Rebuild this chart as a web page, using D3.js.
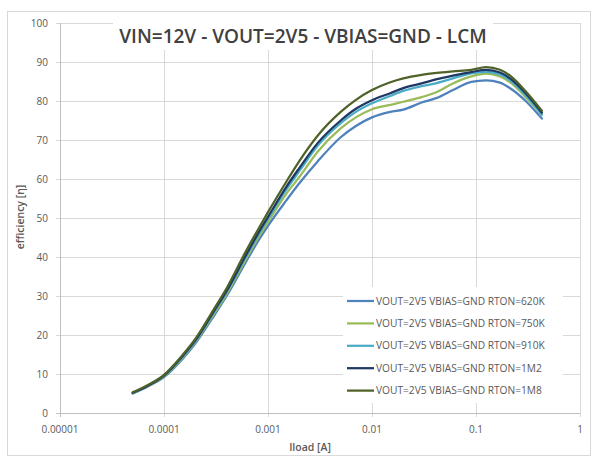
<!DOCTYPE html>
<html>
<head>
<meta charset="utf-8">
<script src="https://cdn.jsdelivr.net/npm/d3@7"></script>
<style>
  html, body { margin: 0; padding: 0; background: #fff; }
  svg { display: block; font-family: "Open Sans", "Liberation Sans", sans-serif; }
</style>
</head>
<body>
<svg id="chart" width="595" height="457"></svg>
<script>
// Load current (A) sample points
const iload = [5e-5, 7e-5, 1e-4, 1.5e-4, 2e-4, 3e-4, 4e-4, 6e-4, 8e-4, 1e-3, 1.5e-3, 2e-3, 3e-3, 5e-3, 7e-3,
               0.01, 0.015, 0.02, 0.03, 0.042, 0.06, 0.09, 0.125, 0.17, 0.22, 0.3, 0.43];

// Efficiency (%) per RTON setting
const eff620K = [5.0, 6.8, 9.2, 13.8, 17.8, 24.8, 30.0, 38.3, 44.0, 48.0, 54.5, 58.9, 64.5, 70.7, 73.6,
                 75.8, 77.2, 77.8, 79.6, 80.8, 82.8, 84.9, 85.3, 84.7, 83.0, 80.0, 75.5];
const eff750K = [5.1, 6.9, 9.4, 14.1, 18.2, 25.3, 30.5, 39.0, 44.8, 49.0, 56.2, 60.5, 67.0, 73.0, 75.8,
                 77.9, 79.0, 79.8, 81.0, 82.3, 84.5, 86.3, 87.0, 86.3, 84.5, 81.0, 76.5];
const eff910K = [5.1, 7.0, 9.5, 14.3, 18.4, 25.7, 31.0, 39.6, 45.5, 49.8, 57.3, 62.0, 68.5, 74.3, 77.2,
                 79.4, 81.3, 82.6, 83.8, 84.6, 85.8, 87.1, 87.5, 86.8, 85.0, 81.5, 76.5];
const eff1M2 = [5.2, 7.0, 9.6, 14.5, 18.6, 26.0, 31.3, 40.0, 46.0, 50.3, 58.0, 62.8, 69.2, 75.0, 78.0,
                80.2, 82.0, 83.3, 84.5, 85.6, 86.5, 87.4, 88.0, 87.3, 85.5, 82.0, 77.0];
const eff1M8 = [5.3, 7.2, 9.8, 14.8, 19.0, 26.5, 32.0, 41.0, 47.0, 51.5, 59.3, 64.6, 71.1, 77.2, 80.3,
                82.8, 84.8, 85.8, 86.7, 87.2, 87.6, 88.0, 88.7, 88.0, 86.2, 82.5, 77.5];

const seriesNames = ["VOUT=2V5 VBIAS=GND RTON=620K", "VOUT=2V5 VBIAS=GND RTON=750K",
                     "VOUT=2V5 VBIAS=GND RTON=910K", "VOUT=2V5 VBIAS=GND RTON=1M2",
                     "VOUT=2V5 VBIAS=GND RTON=1M8"];
const seriesValues = [eff620K, eff750K, eff910K, eff1M2, eff1M8];
const seriesColors = ["#4f81bd", "#9bbb59", "#4bacc6", "#1f3864", "#4f6228"];

const xTicks = [1e-5, 1e-4, 1e-3, 1e-2, 1e-1, 1];
const xTickLabels = ["0.00001", "0.0001", "0.001", "0.01", "0.1", "1"];
const yTicks = [0, 10, 20, 30, 40, 50, 60, 70, 80, 90, 100];

const titleText = "VIN=12V - VOUT=2V5 - VBIAS=GND - LCM";
const xLabel = "Iload [A]";
const yLabel = "efficiency [\u03b7]";

const svg = d3.select("#chart");
const plot = { left: 60, right: 580, top: 23, bottom: 413 };

const x = d3.scaleLog().domain([1e-5, 1]).range([plot.left, plot.right]);
const y = d3.scaleLinear().domain([0, 100]).range([plot.bottom, plot.top]);

// Chart frame
svg.append("rect")
  .attr("x", 7.5).attr("y", 11.5).attr("width", 583).attr("height", 444)
  .attr("fill", "#fff").attr("stroke", "#d9d9d9").attr("stroke-width", 1);

// Gridlines
const grid = svg.append("g");
grid.selectAll("line.h").data(yTicks).join("line")
  .attr("x1", plot.left - 4).attr("x2", plot.right)
  .attr("y1", d => Math.round(y(d)) + 0.5).attr("y2", d => Math.round(y(d)) + 0.5)
  .attr("stroke", "#d9d9d9").attr("stroke-width", 1);
grid.selectAll("line.v").data(xTicks).join("line")
  .attr("x1", d => Math.round(x(d)) + 0.5).attr("x2", d => Math.round(x(d)) + 0.5)
  .attr("y1", plot.top).attr("y2", plot.bottom + 4)
  .attr("stroke", "#d9d9d9").attr("stroke-width", 1);

// Axis lines
svg.append("line")
  .attr("x1", plot.left + 0.5).attr("x2", plot.left + 0.5)
  .attr("y1", plot.top).attr("y2", plot.bottom + 4)
  .attr("stroke", "#bfbfbf");
svg.append("line")
  .attr("x1", plot.left - 4).attr("x2", plot.right)
  .attr("y1", plot.bottom + 0.5).attr("y2", plot.bottom + 0.5)
  .attr("stroke", "#bfbfbf");

// Tick labels
svg.append("g").selectAll("text").data(yTicks).join("text")
  .attr("x", plot.left - 12).attr("y", d => y(d)).attr("dy", "0.35em")
  .attr("text-anchor", "end").attr("font-size", 10).attr("fill", "#595959")
  .text(d => d);
svg.append("g").selectAll("text").data(xTicks).join("text")
  .attr("x", d => x(d)).attr("y", plot.bottom + 20)
  .attr("text-anchor", "middle").attr("font-size", 10).attr("fill", "#595959")
  .text((d, i) => xTickLabels[i]);

// Axis titles
svg.append("text")
  .attr("x", 310).attr("y", 451).attr("text-anchor", "middle")
  .attr("font-size", 10.5).attr("font-weight", 600).attr("fill", "#595959")
  .text(xLabel);
svg.append("text")
  .attr("transform", "translate(24,217) rotate(-90)").attr("text-anchor", "middle")
  .attr("font-size", 10.5).attr("font-weight", 600).attr("fill", "#595959")
  .text(yLabel);

// Series lines
const line = d3.line()
  .x(d => x(d[0])).y(d => y(d[1]))
  .curve(d3.curveMonotoneX);

svg.append("g").selectAll("path").data(seriesValues).join("path")
  .attr("d", vals => line(iload.map((v, i) => [v, vals[i]])))
  .attr("fill", "none")
  .attr("stroke", (d, i) => seriesColors[i])
  .attr("stroke-width", 2.25)
  .attr("stroke-linecap", "round")
  .attr("stroke-linejoin", "round");

// Title with its white backing box
svg.append("rect")
  .attr("x", 113).attr("y", 14).attr("width", 380).attr("height", 36)
  .attr("fill", "#fff");
svg.append("text")
  .attr("x", 303).attr("y", 43).attr("text-anchor", "middle")
  .attr("font-size", 19).attr("font-weight", 600).attr("fill", "#404040")
  .text(titleText);

// Legend
const legend = svg.append("g");
legend.append("rect")
  .attr("x", 343).attr("y", 287).attr("width", 220).attr("height", 116)
  .attr("fill", "#fff");
const rows = legend.selectAll("g").data(seriesNames).join("g")
  .attr("transform", (d, i) => `translate(347,${301 + i * 22.4})`);
rows.append("line")
  .attr("x1", 0).attr("x2", 27).attr("y1", 0).attr("y2", 0)
  .attr("stroke", (d, i) => seriesColors[i]).attr("stroke-width", 2.25);
rows.append("text")
  .attr("x", 29).attr("y", 0).attr("dy", "0.35em")
  .attr("font-size", 10.2).attr("fill", "#595959")
  .text(d => d);
</script>
</body>
</html>
